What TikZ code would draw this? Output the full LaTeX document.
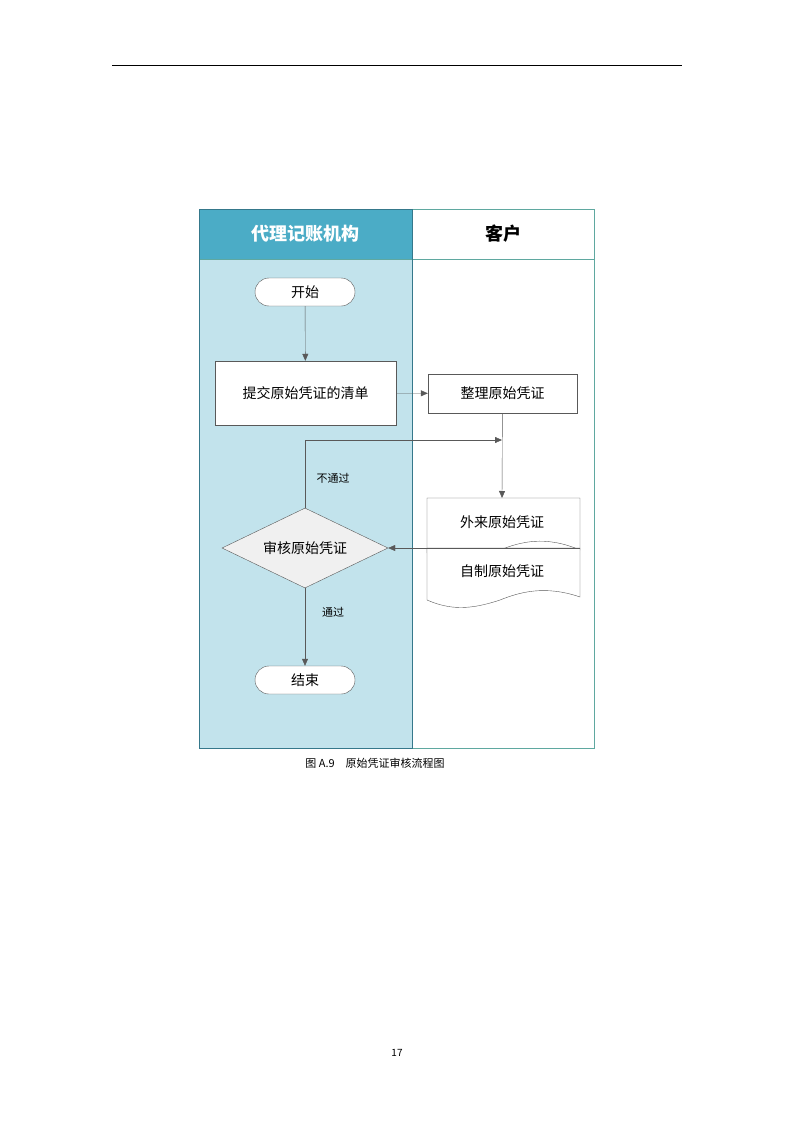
\documentclass[tikz,border=0pt]{standalone}
\usepackage{fontspec}
\setmainfont{Noto Sans CJK SC}
\usetikzlibrary{arrows.meta,shapes.geometric}
\definecolor{hdr}{HTML}{4BACC6}
\definecolor{lane}{HTML}{C2E3EC}
\definecolor{edge}{HTML}{5FA8A0}
\definecolor{ln}{HTML}{595959}
\tikzset{
 x=1pt,y=-1pt,
 term/.style={draw=ln,fill=white,rounded corners=14pt,minimum width=100pt,minimum height=28pt,font=\fontsize{14}{16}\selectfont},
 proc/.style={draw=ln,fill=white,font=\fontsize{14}{16}\selectfont},
 dec/.style={draw=ln,fill=gray!12,diamond,aspect=2.1,minimum width=166pt,minimum height=80pt,inner sep=0pt,font=\fontsize{14}{16}\selectfont},
 arr/.style={draw=ln,-{Triangle[length=7pt,width=6pt]}},
 lbl/.style={font=\fontsize{11}{13}\selectfont}
}
\begin{document}
\begin{tikzpicture}
\useasboundingbox (0,0) rectangle (794,1123);
\draw[black,line width=0.6pt] (112,65) -- (682,65);
% lanes
\fill[lane] (199,259) rectangle (412,748);
\fill[hdr] (199,209) rectangle (412,259);
\draw[edge,line width=0.8pt] (199,209) rectangle (594,748);
\draw[edge,line width=0.8pt] (412,209) -- (412,748);
\draw[edge,line width=0.8pt] (199,259) -- (594,259);
\draw[hdr!70!black,line width=0.8pt] (199,209) rectangle (412,748);
\node[text=white,font=\fontsize{18}{20}\selectfont\bfseries] (h1) at (305.5,234) {代理记账机构};
\node[font=\fontsize{18}{20}\selectfont\bfseries] (h2) at (503,234) {客户};
% nodes
\node[term] (start) at (305,292) {开始};
\node[proc,minimum width=181pt,minimum height=64pt] (submit) at (305.5,393) {提交原始凭证的清单};
\node[proc,minimum width=149pt,minimum height=39pt] (sort) at (502.5,393.5) {整理原始凭证};
\node[dec] (check) at (305,548) {审核原始凭证};
\node[term] (end) at (305,680) {结束};
% documents
\draw[ln,fill=white] (427,498) -- (580,498) -- (580,550) .. controls (545,535) and (520,542) .. (500,550) .. controls (470,560) and (450,560) .. (427,553) -- cycle;
\draw[ln,fill=white] (427,548) -- (580,548) -- (580,597) .. controls (545,585) and (520,592) .. (500,600) .. controls (470,610) and (450,610) .. (427,600) -- cycle;
\node[font=\fontsize{14}{16}\selectfont] (doc1) at (502,522) {外来原始凭证};
\node[font=\fontsize{14}{16}\selectfont] (doc2) at (502,571) {自制原始凭证};
\coordinate (doctop) at (502,498);
\coordinate (docright) at (580,548);
\coordinate (loop) at (502,440);
% connectors
\draw[arr] (start) -- (submit);
\draw[arr] (submit) -- (sort);
\draw[arr] (sort) -- (doctop);
\draw[arr] (check.north) |- (loop);
\draw[arr] (docright) -- (check.east);
\draw[arr] (check) -- (end);
\node[lbl] (no) at (333,478) {不通过};
\node[lbl] (yes) at (333,612) {通过};
\node[font=\fontsize{11}{13}\selectfont] (cap) at (375,763) {图 A.9\quad 原始凭证审核流程图};
\node[font=\fontsize{10}{12}\selectfont] (pg) at (397,1053) {17};
\end{tikzpicture}
\end{document}
